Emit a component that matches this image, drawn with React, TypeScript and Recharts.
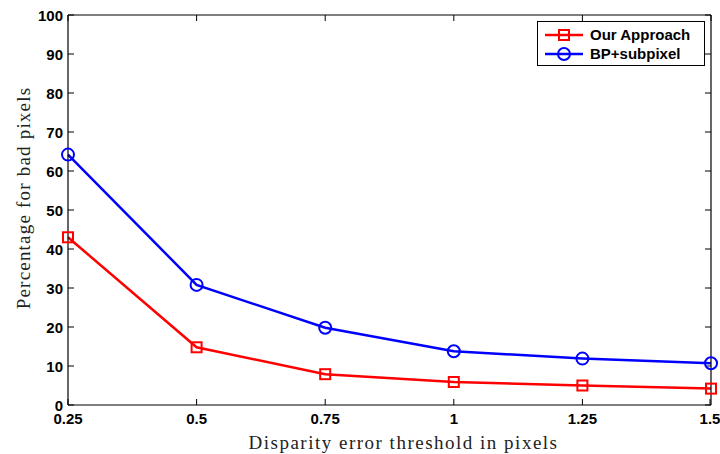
import React from 'react';
import { LineChart, Line, XAxis, YAxis, ReferenceLine } from 'recharts';

const thresholds = [0.25, 0.5, 0.75, 1, 1.25, 1.5];
const ourApproach = [43.0, 14.8, 7.9, 5.9, 5.0, 4.2];
const bpSubpixel = [64.2, 30.8, 19.8, 13.8, 11.9, 10.7];
const xTicks = [0.25, 0.5, 0.75, 1, 1.25, 1.5];
const yTicks = [0, 10, 20, 30, 40, 50, 60, 70, 80, 90, 100];
const seriesNames = ['Our Approach', 'BP+subpixel'];
const xTitle = 'Disparity error threshold in pixels';
const yTitle = 'Percentage for bad pixels';
const xDomain = [0.25, 1.5];
const yDomain = [0, 100];

const data = thresholds.map((t, i) => ({ x: t, our: ourApproach[i], bp: bpSubpixel[i] }));

// inward tick length expressed in axis units (about 6px)
const yTickLen = 6 / 3.9;
const xTickLen = 6 / (643 / 1.25);

const tickFont = { fontFamily: 'Liberation Sans, Arial, sans-serif', fontWeight: 700, fontSize: 15, fill: '#000' };
const labelFont = { fontFamily: 'Liberation Serif, serif', fontSize: 19, fill: '#222' };

const BottomTick = (p: any) => (
  <g>
    <line x1={p.x} y1={p.y} x2={p.x} y2={p.y - 6} stroke="#000" strokeWidth={1} />
    <text x={p.x} y={p.y + 19} textAnchor="middle" style={tickFont}>{String(p.payload.value)}</text>
  </g>
);
const LeftTick = (p: any) => (
  <g>
    <line x1={p.x} y1={p.y} x2={p.x + 6} y2={p.y} stroke="#000" strokeWidth={1} />
    <text x={p.x - 5} y={p.y + 5.5} textAnchor="end" style={tickFont}>{String(p.payload.value)}</text>
  </g>
);

const SquareDot = (p: any) => (
  <rect key={`sq-${p.index}`} x={p.cx - 5} y={p.cy - 5} width={10} height={10} fill="none" stroke="#FF0000" strokeWidth={2} />
);

const XTitle = (props: any) => {
  const vb = props.viewBox || {};
  const cx = vb.x + vb.width / 2 + 14;
  return (
    <text x={cx} y={449} textAnchor="middle" style={{ ...labelFont, letterSpacing: 1.5 }}>{xTitle}</text>
  );
};
const YTitle = (props: any) => {
  const vb = props.viewBox || {};
  const cy = vb.y + vb.height / 2 - 12;
  return (
    <text x={30} y={cy} transform={`rotate(-90 30 ${cy})`} textAnchor="middle" style={{ ...labelFont, letterSpacing: 1.2 }}>{yTitle}</text>
  );
};

const LegendBox = () => (
  <div style={{ position: 'absolute', left: 537, top: 21, border: '1px solid #000', background: '#fff', width: 168, height: 45, boxSizing: 'border-box', padding: '3px 0 0 7px' }}>
    {[
      { name: seriesNames[0], color: '#FF0000', shape: 'square' },
      { name: seriesNames[1], color: '#0000FF', shape: 'circle' },
    ].map((e) => (
      <div key={e.name} style={{ display: 'flex', alignItems: 'center', height: 19 }}>
        <svg width={40} height={16} style={{ display: 'block' }}>
          <line x1={0} y1={8} x2={38} y2={8} stroke={e.color} strokeWidth={2.5} />
          {e.shape === 'square' ? (
            <rect x={14} y={3} width={10} height={10} fill="none" stroke={e.color} strokeWidth={2} />
          ) : (
            <circle cx={19} cy={8} r={6} fill="none" stroke={e.color} strokeWidth={2} />
          )}
        </svg>
        <span style={{ fontFamily: 'Liberation Sans, Arial, sans-serif', fontWeight: 700, fontSize: 15, color: '#000', marginLeft: 5 }}>{e.name}</span>
      </div>
    ))}
  </div>
);

export default function App() {
  return (
    <div style={{ position: 'absolute', left: 0, top: 0, width: 720, height: 454, background: '#fff' }}>
      <LineChart width={720} height={454} data={data} margin={{ top: 14, right: 8, left: 0, bottom: 0 }}>
        <XAxis
          dataKey="x"
          type="number"
          domain={xDomain}
          ticks={xTicks}
          height={49}
          tickSize={0}
          tickMargin={0}
          tick={<BottomTick />}
          axisLine={{ stroke: '#000', strokeWidth: 1.2 }}
          tickLine={false}
          label={<XTitle />}
        />
        <YAxis
          type="number"
          domain={yDomain}
          ticks={yTicks}
          width={68}
          tickSize={0}
          tickMargin={0}
          tick={<LeftTick />}
          axisLine={{ stroke: '#000', strokeWidth: 1.2 }}
          tickLine={false}
          label={<YTitle />}
        />
        <XAxis
          xAxisId="top"
          orientation="top"
          dataKey="x"
          type="number"
          domain={xDomain}
          ticks={xTicks}
          height={1}
          tickSize={0}
          tickMargin={0}
          tick={false}
          axisLine={{ stroke: '#000', strokeWidth: 1.2 }}
        />
        <YAxis
          yAxisId="right"
          orientation="right"
          type="number"
          domain={yDomain}
          ticks={yTicks}
          width={1}
          tickSize={0}
          tick={false}
          axisLine={{ stroke: '#000', strokeWidth: 1.2 }}
        />
        {xTicks.map((t) => (
          <ReferenceLine
            key={`tt-${t}`}
            ifOverflow="visible"
            segment={[{ x: t, y: yDomain[1] }, { x: t, y: yDomain[1] - yTickLen }]}
            stroke="#000"
            strokeWidth={1}
          />
        ))}
        {yTicks.map((t) => (
          <ReferenceLine
            key={`rt-${t}`}
            ifOverflow="visible"
            segment={[{ x: xDomain[1], y: t }, { x: xDomain[1] - xTickLen, y: t }]}
            stroke="#000"
            strokeWidth={1}
          />
        ))}
        <Line
          dataKey="our"
          name={seriesNames[0]}
          stroke="#FF0000"
          strokeWidth={2.5}
          dot={SquareDot}
          isAnimationActive={false}
        />
        <Line
          xAxisId="top"
          yAxisId="right"
          dataKey="bp"
          name={seriesNames[1]}
          stroke="#0000FF"
          strokeWidth={2.5}
          dot={{ r: 6, fill: 'none', stroke: '#0000FF', strokeWidth: 2 }}
          isAnimationActive={false}
        />
      </LineChart>
      <LegendBox />
    </div>
  );
}
